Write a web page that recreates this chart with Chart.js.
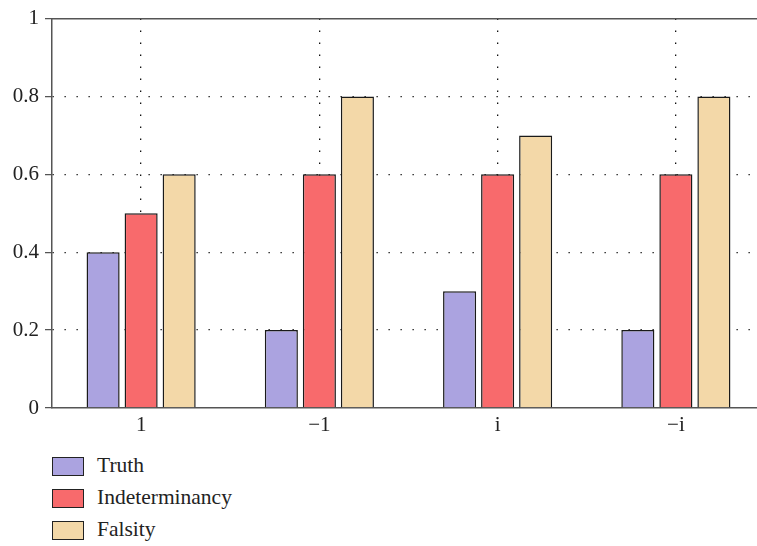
<!DOCTYPE html>
<html>
<head>
<meta charset="utf-8">
<script src="https://cdn.jsdelivr.net/npm/chart.js@4"></script>
<style>
  html, body { margin: 0; padding: 0; background: #fff; overflow: hidden; }
  #wrap { position: relative; width: 757px; height: 546px; overflow: hidden; }
  #chart { position: absolute; left: 0; top: 0; }
  #legend { position: absolute; left: 52px; top: 457px; font-family: "Liberation Serif", "DejaVu Serif", serif; font-size: 21.5px; color: #222; }
  .item { height: 32px; display: flex; align-items: flex-start; }
  .box { width: 32px; height: 19px; border: 1.5px solid #222; box-sizing: border-box; margin-right: 13px; }
  .item span { line-height: 19px; margin-top: -1px; }
</style>
</head>
<body>
<div id="wrap">
  <canvas id="chart" width="768" height="440"></canvas>
  <div id="legend"></div>
</div>
<script>
const categories = ['1', '\u22121', 'i', '\u2212i'];
const truthValues = [0.4, 0.2, 0.3, 0.2];
const indeterminacyValues = [0.5, 0.6, 0.6, 0.6];
const falsityValues = [0.6, 0.8, 0.7, 0.8];
const yTicks = [0, 0.2, 0.4, 0.6, 0.8, 1];

const seriesNames = ['Truth', 'Indeterminancy', 'Falsity'];
const seriesColors = ['#aba3e0', '#f86a6c', '#f3d8a8'];
const seriesData = [truthValues, indeterminacyValues, falsityValues];

const fontFamily = '"Liberation Serif", "DejaVu Serif", serif';

const datasets = seriesNames.map((name, i) => ({
    label: name,
    data: seriesData[i],
    backgroundColor: seriesColors[i],
    borderColor: '#1a1a1a',
    borderWidth: 1.5,
    barPercentage: 0.87,
    categoryPercentage: 0.64
}));

new Chart(document.getElementById('chart'), {
    type: 'bar',
    data: { labels: categories, datasets: datasets },
    options: {
        responsive: false,
        animation: false,
        layout: { padding: { top: 13, right: 3, left: 0, bottom: 0 } },
        plugins: { legend: { display: false }, tooltip: { enabled: false } },
        scales: {
            x: {
                grid: {
                    offset: false,
                    color: '#111',
                    lineWidth: 1.3,
                    drawTicks: false
                },
                border: { display: true, color: '#555', width: 1.5, dash: [1.3, 10.7] },
                ticks: { color: '#222', font: { family: fontFamily, size: 21 }, padding: 5 },
                afterFit: (axis) => { axis.height = 32; }
            },
            x2: {
                position: 'top',
                labels: categories,
                grid: { display: false },
                ticks: { display: false },
                border: { display: true, color: '#555', width: 1.5 },
                afterFit: (axis) => { axis.height = 0; }
            },
            y: {
                min: 0,
                max: 1,
                afterBuildTicks: (axis) => { axis.ticks = yTicks.map(v => ({ value: v })); },
                grid: {
                    color: (ctx) => (ctx.tick && (ctx.tick.value === 0 || ctx.tick.value === 1)) ? 'rgba(0,0,0,0)' : '#111',
                    lineWidth: 1.3,
                    tickBorderDash: [1, 0],
                    tickColor: '#555',
                    tickLength: 7,
                    tickWidth: 1.3
                },
                border: { display: true, color: '#555', width: 1.5, dash: [1.3, 10.7] },
                ticks: {
                    color: '#222',
                    font: { family: fontFamily, size: 21 },
                    padding: 6,
                    callback: (v) => String(v)
                },
                afterFit: (axis) => { axis.width = 52; }
            }
        }
    }
});

// legend, one row per series
const legend = document.getElementById('legend');
seriesNames.forEach((name, i) => {
    legend.innerHTML += `<div class="item"><div class="box" style="background:${seriesColors[i]}"></div><span>${name}</span></div>`;
});
</script>
</body>
</html>
